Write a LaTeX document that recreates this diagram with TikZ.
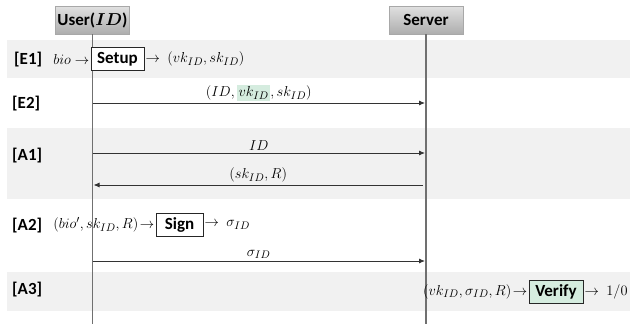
\documentclass[tikz,border=0pt]{standalone}
\usepackage{fontspec}
\usepackage{bm}
\setmainfont{Carlito}
\usetikzlibrary{arrows.meta}
\definecolor{band}{HTML}{F1F1F1}
\definecolor{hl}{HTML}{D5ECDF}
\definecolor{life}{HTML}{707070}
\definecolor{actorline}{HTML}{A8A8A8}
\definecolor{vfill}{HTML}{D5ECDF}
\begin{document}
\begin{tikzpicture}[x=1pt,y=-1pt,
  font=\fontsize{15}{17}\selectfont,
  actor/.style={draw=actorline, top color=black!12, bottom color=black!32,
    minimum height=28, font=\fontsize{17}{19}\selectfont\bfseries, inner sep=2pt},
  lifeline/.style={draw=life, line width=1.3pt},
  msg/.style={draw=black!80, line width=0.9pt, -{Latex[length=6pt,width=5pt]}},
  msglabel/.style={above, inner sep=2pt},
  rowlabel/.style={font=\fontsize{17}{19}\selectfont\bfseries, anchor=west, inner sep=0pt},
  algbox/.style={draw=black!85, line width=0.9pt, fill=white, minimum height=23,
    inner xsep=3pt, inner ysep=2pt, font=\fontsize{17}{19}\selectfont\bfseries},
  flow/.style={inner sep=1pt}
]
\useasboundingbox (0,0) rectangle (630,324);
% bands
\fill[band] (7,40) rectangle (630,78);
\fill[band] (7,128) rectangle (630,199);
\fill[band] (7,272) rectangle (630,311);
% actors
\node[actor, minimum width=73] (user) at (92.5,20) {User($\bm{ID}$)};
\node[actor, minimum width=74] (server) at (426,20) {Server};
\coordinate (ub) at (92.5,324);
\coordinate (sb) at (426,324);
\draw[lifeline] (user) -- (ub);
\draw[lifeline] (server) -- (sb);
% row labels
\node[rowlabel] (le1) at (14,60) {[E1]};
\node[rowlabel] (le2) at (12,104) {[E2]};
\node[rowlabel] (la1) at (12,156) {[A1]};
\node[rowlabel] (la2) at (12,226) {[A2]};
\node[rowlabel] (la3) at (12,290) {[A3]};
% E1
\node[algbox, minimum width=53] (setup) at (117.5,59) {Setup};
\node[flow, anchor=east] (e1in) at (setup.west) {$bio\rightarrow$};
\node[flow, anchor=west] (e1out) at (setup.east) {$\rightarrow\ (vk_{ID}, sk_{ID})$};
% E2
\coordinate (u1) at (92.5,103);
\coordinate (s1) at (425,103);
\draw[msg] (u1) -- node[msglabel]{$(ID,\setlength{\fboxsep}{1.5pt}\colorbox{hl}{$vk_{ID}$},sk_{ID})$} (s1);
% A1
\coordinate (u2) at (92.5,153);
\coordinate (s2) at (425,153);
\draw[msg] (u2) -- node[msglabel]{$ID$} (s2);
\coordinate (u3) at (93.5,185);
\coordinate (s3) at (423,185);
\draw[msg] (s3) -- node[msglabel]{$(sk_{ID},R)$} (u3);
% A2
\node[algbox, minimum width=47] (sign) at (179.5,225) {Sign};
\node[flow, anchor=east] (a2in) at (sign.west) {$(bio',sk_{ID},R)\!\rightarrow$};
\node[flow, anchor=west] (a2out) at (sign.east) {$\rightarrow\ \sigma_{ID}$};
\coordinate (u4) at (92.5,261);
\coordinate (s4) at (425,261);
\draw[msg] (u4) -- node[msglabel]{$\sigma_{ID}$} (s4);
% A3
\node[algbox, fill=vfill, minimum width=54] (verify) at (556,291.5) {Verify};
\node[flow, anchor=east] (a3in) at (verify.west) {$(vk_{ID},\sigma_{ID},R)\!\rightarrow$};
\node[flow, anchor=west] (a3out) at (verify.east) {$\rightarrow\ 1/0$};
\end{tikzpicture}
\end{document}
